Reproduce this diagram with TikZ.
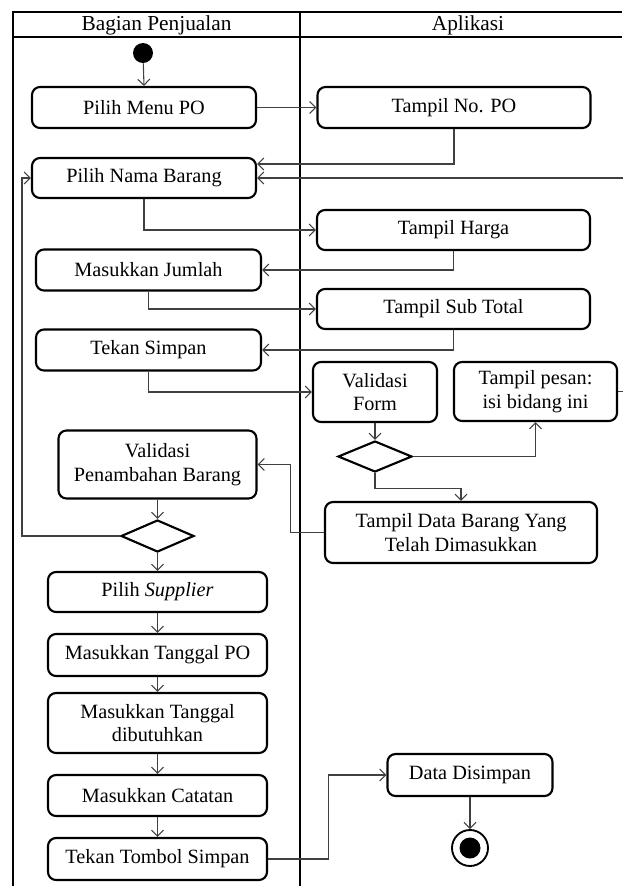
\documentclass[tikz,border=0pt]{standalone}
\usepackage{fontspec}
\setmainfont{Liberation Serif}
\usetikzlibrary{arrows.meta,shapes.geometric}
\begin{document}
\begin{tikzpicture}[x=0.75pt,y=-0.75pt,
  lane/.style={line width=1.6pt,black},
  box/.style={draw,line width=1.6pt,rounded corners=6pt,align=center,inner sep=0pt,
    font=\fontsize{15.2}{17.5}\selectfont},
  sz/.style 2 args={minimum width=#1*0.75pt,minimum height=#2*0.75pt},
  dia/.style={draw,diamond,line width=1.6pt,inner sep=0pt},
  conn/.style={draw=black!75,line width=0.8pt,-{Straight Barb[length=4.5pt,width=9pt]}},
  hdr/.style={font=\fontsize{16}{19}\selectfont}]
\useasboundingbox (0,0) rectangle (622,886);
% swimlane frame
\coordinate (tl) at (13,12);
\coordinate (hl) at (13,37);
\draw[lane] (622,12) -- (tl) -- (13,886);
\draw[lane] (hl) -- (622,37);
\draw[lane] (300,12) -- (300,886);
\node[hdr] (h1) at (156.5,25) {Bagian Penjualan};
\node[hdr] (h2) at (468,25) {Aplikasi};
% nodes
\node[circle,fill,inner sep=0pt,minimum size=20*0.75pt] (start) at (143,53) {};
\node[box,sz={224}{41}] (pmpo) at (144,107.5) {Pilih Menu PO};
\node[box,sz={273}{41}] (tnpo) at (454,107.5) {Tampil No. PO};
\node[box,sz={224}{40}] (pnb) at (144,178) {Pilih Nama Barang};
\node[box,sz={273}{40}] (th) at (453.5,230) {Tampil Harga};
\node[box,sz={225}{41}] (mj) at (148.5,270) {Masukkan Jumlah};
\node[box,sz={273}{40}] (tst) at (453.5,309) {Tampil Sub Total};
\node[box,sz={225}{41}] (ts) at (148.5,350) {Tekan Simpan};
\node[box,sz={124}{60}] (vf) at (375,392) {Validasi\\Form};
\node[box,sz={163}{59}] (tp) at (535.5,391.5) {Tampil pesan:\\isi bidang ini};
\node[dia,sz={74}{31}] (d1) at (375,456.5) {};
\node[box,sz={272}{61}] (tdb) at (461,532.5) {Tampil Data Barang Yang\\Telah Dimasukkan};
\node[box,sz={198}{68}] (vpb) at (157.5,464.5) {Validasi\\Penambahan Barang};
\node[dia,sz={73}{32}] (d2) at (157.5,536) {};
\node[box,sz={219}{40}] (ps) at (157.5,592) {Pilih \textit{Supplier}};
\node[box,sz={219}{42}] (mtpo) at (157.5,655) {Masukkan Tanggal PO};
\node[box,sz={219}{60}] (mtd) at (157.5,723) {Masukkan Tanggal\\dibutuhkan};
\node[box,sz={219}{41}] (mc) at (157.5,795.5) {Masukkan Catatan};
\node[box,sz={219}{42}] (tts) at (157.5,859) {Tekan Tombol Simpan};
\node[box,sz={165}{42}] (dd) at (470,775) {Data Disimpan};
\node[circle,draw,line width=1.4pt,inner sep=0pt,minimum size=36*0.75pt] (end) at (470,848) {};
\node[circle,fill,inner sep=0pt,minimum size=21*0.75pt] (endin) at (end) {};
\coordinate (loopx) at (22,0);
% connectors
\draw[conn] (start) -- (pmpo.north);
\draw[conn] (pmpo.east) -- (tnpo.west);
\draw[conn] (tnpo.south) |- ([yshift=10.5pt]pnb.east);
\draw[conn] (tp.east) -- ++(25,0) |- (pnb.east);
\draw[conn] (pnb.south) |- (th.west);
\draw[conn] (th.south) |- (mj.east);
\draw[conn] (mj.south) |- (tst.west);
\draw[conn] (tst.south) |- (ts.east);
\draw[conn] (ts.south) |- (vf.west);
\draw[conn] (vf.south) -- (d1.north);
\draw[conn] (d1.east) -| (tp.south);
\draw[conn] (d1.south) -- ++(0,15) -| (tdb.north);
\draw[conn] (tdb.west) -- ++(-33,0) |- (vpb.east);
\draw[conn] (vpb.south) -- (d2.north);
\draw[conn] (d2.west) -- (d2.west -| loopx) |- (pnb.west);
\draw[conn] (d2.south) -- (ps.north);
\draw[conn] (ps.south) -- (mtpo.north);
\draw[conn] (mtpo.south) -- (mtd.north);
\draw[conn] (mtd.south) -- (mc.north);
\draw[conn] (mc.south) -- (tts.north);
\draw[conn] (tts.east) -- ++(60,0) |- (dd.west);
\draw[conn] (dd.south) -- (end.north);
\end{tikzpicture}
\end{document}
